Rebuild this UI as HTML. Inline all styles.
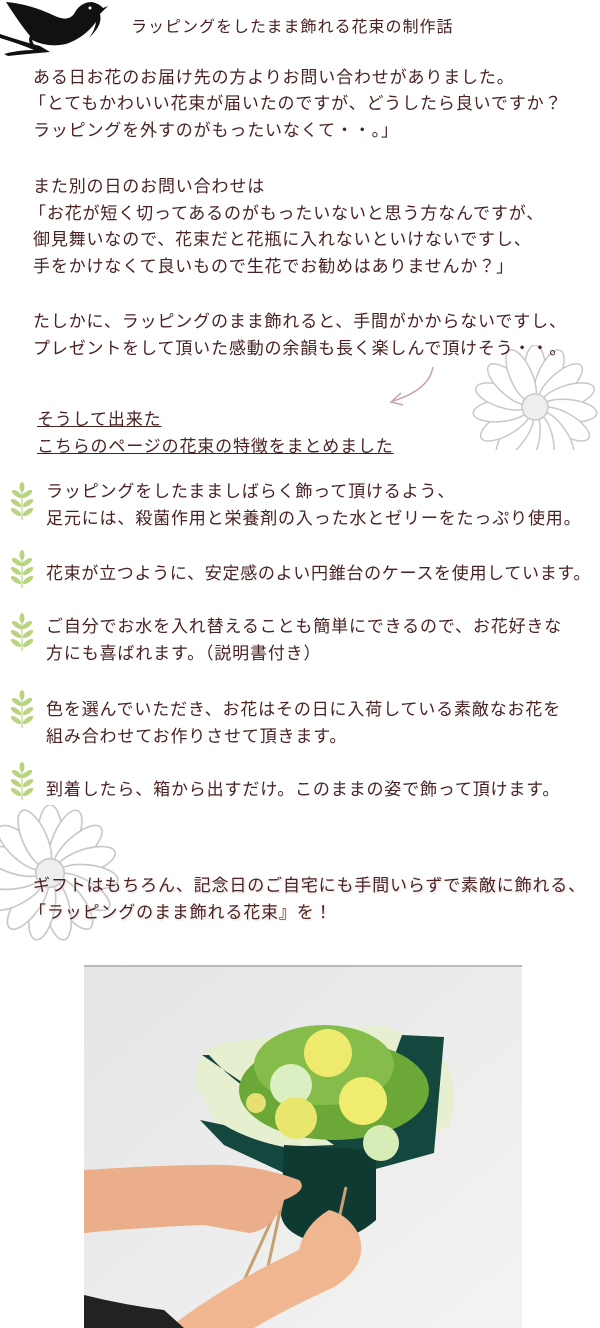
<!DOCTYPE html>
<html><head><meta charset="utf-8"><style>
html,body{margin:0;padding:0;background:#fff;}
body{width:600px;height:1328px;position:relative;overflow:hidden;font-family:"Liberation Sans","Noto Sans CJK JP",sans-serif;color:#4a2222;}
.t{position:absolute;white-space:nowrap;font-size:17px;line-height:22px;letter-spacing:0.85px;z-index:2;}
.u{text-decoration:underline;}
.sh{text-shadow:0 0 3px #fff,1px 1px 2px #d8c8c8;}
svg{position:absolute;z-index:1;}
</style></head><body>
<svg style="left:0;top:0" width="110" height="60" viewBox="0 0 110 60">
<path d="M6 2 Q30 4 55 16 Q68 22 74 14 Q80 2 92 2 Q100 4 103 8 L108 6 L100 14 Q102 22 96 30 Q86 44 66 50 Q50 54 38 50 Q26 44 30 36 Q20 24 6 2Z" fill="#111"/>
<path d="M32 40 Q48 48 66 44 Q84 38 96 22 Q94 36 80 46 Q62 54 44 52 Q34 48 32 40Z" fill="#fff"/>
<path d="M36 36 Q50 44 64 40 Q80 34 92 22" stroke="#111" stroke-width="2" fill="none"/>
<path d="M40 46 Q24 42 0 34 L0 38 Q20 44 34 50 Q18 50 4 54 L8 56 Q26 54 50 52Z" fill="#111"/>
<circle cx="90" cy="8" r="1.5" fill="#fff"/>
</svg>
<div class="t" style="left:131px;top:17px;font-size:16px;letter-spacing:1px;">ラッピングをしたまま飾れる花束の制作話</div>

<div class="t" style="left:33px;top:67px;">ある日お花のお届け先の方よりお問い合わせがありました。</div>
<div class="t" style="left:29px;top:93px;">「とてもかわいい花束が届いたのですが、どうしたら良いですか？</div>
<div class="t" style="left:33px;top:120px;">ラッピングを外すのがもったいなくて・・。」</div>

<div class="t" style="left:33px;top:176px;">また別の日のお問い合わせは</div>
<div class="t" style="left:29px;top:203px;">「お花が短く切ってあるのがもったいないと思う方なんですが、</div>
<div class="t" style="left:33px;top:229px;">御見舞いなので、花束だと花瓶に入れないといけないですし、</div>
<div class="t" style="left:33px;top:256px;">手をかけなくて良いもので生花でお勧めはありませんか？」</div>

<div class="t" style="left:33px;top:311px;">たしかに、ラッピングのまま飾れると、手間がかからないですし、</div>
<div class="t" style="left:33px;top:338px;">プレゼントをして頂いた感動の余韻も長く楽しんで頂けそう・・。</div>

<svg width="0" height="0"><defs>
<g id="daisy" fill="#fff" stroke="#c8c8c8" stroke-width="1.5">
<ellipse cx="0" cy="-34" rx="11" ry="28" transform="rotate(0)"/>
<ellipse cx="0" cy="-34" rx="11" ry="28" transform="rotate(24)"/>
<ellipse cx="0" cy="-34" rx="11" ry="28" transform="rotate(48)"/>
<ellipse cx="0" cy="-34" rx="11" ry="28" transform="rotate(72)"/>
<ellipse cx="0" cy="-34" rx="11" ry="28" transform="rotate(96)"/>
<ellipse cx="0" cy="-34" rx="11" ry="28" transform="rotate(120)"/>
<ellipse cx="0" cy="-34" rx="11" ry="28" transform="rotate(144)"/>
<ellipse cx="0" cy="-34" rx="11" ry="28" transform="rotate(168)"/>
<ellipse cx="0" cy="-34" rx="11" ry="28" transform="rotate(192)"/>
<ellipse cx="0" cy="-34" rx="11" ry="28" transform="rotate(216)"/>
<ellipse cx="0" cy="-34" rx="11" ry="28" transform="rotate(240)"/>
<ellipse cx="0" cy="-34" rx="11" ry="28" transform="rotate(264)"/>
<ellipse cx="0" cy="-34" rx="11" ry="28" transform="rotate(288)"/>
<ellipse cx="0" cy="-34" rx="11" ry="28" transform="rotate(312)"/>
<ellipse cx="0" cy="-34" rx="11" ry="28" transform="rotate(336)"/>
<circle r="13" fill="#eee"/>
</g>
<g id="lf"><line x1="12" y1="2" x2="12" y2="38" stroke="#c9dca0" stroke-width="1.5"/><g fill="#b8d47e"><ellipse cx="7" cy="12" rx="6" ry="2.5" transform="rotate(35 7 12)"/><ellipse cx="17" cy="12" rx="6" ry="2.5" transform="rotate(-35 17 12)"/><ellipse cx="6" cy="21" rx="6" ry="2.5" transform="rotate(35 6 21)"/><ellipse cx="18" cy="21" rx="6" ry="2.5" transform="rotate(-35 18 21)"/><ellipse cx="6" cy="30" rx="6" ry="2.5" transform="rotate(35 6 30)"/><ellipse cx="18" cy="30" rx="6" ry="2.5" transform="rotate(-35 18 30)"/><ellipse cx="12" cy="5" rx="2.5" ry="5"/></g></g>
</defs></svg>

<svg style="left:455px;top:345px" width="145" height="105" viewBox="0 0 145 105">
<use href="#daisy" transform="translate(80,62)"/>
</svg>
<svg style="left:385px;top:365px" width="55" height="45" viewBox="0 0 55 45">
<path d="M48 2 Q44 25 8 36" stroke="#c9a0a8" stroke-width="1.5" fill="none"/>
<path d="M16 28 L6 37 L18 40" stroke="#c9a0a8" stroke-width="1.5" fill="none"/>
</svg>

<div class="t u" style="left:37px;top:409px;">そうして出来た</div>
<div class="t u" style="left:37px;top:436px;">こちらのページの花束の特徴をまとめました</div>

<svg style="left:10px;top:482px" width="26" height="42"><use href="#lf"/></svg>
<svg style="left:10px;top:550px" width="26" height="42"><use href="#lf"/></svg>
<svg style="left:10px;top:613px" width="26" height="42"><use href="#lf"/></svg>
<svg style="left:10px;top:690px" width="26" height="42"><use href="#lf"/></svg>
<svg style="left:10px;top:762px" width="26" height="42"><use href="#lf"/></svg>

<div class="t" style="left:46px;top:481px;">ラッピングをしたまましばらく飾って頂けるよう、</div>
<div class="t" style="left:46px;top:508px;">足元には、殺菌作用と栄養剤の入った水とゼリーをたっぷり使用。</div>
<div class="t" style="left:46px;top:563px;letter-spacing:0.7px;">花束が立つように、安定感のよい円錐台のケースを使用しています。</div>
<div class="t" style="left:46px;top:616px;">ご自分でお水を入れ替えることも簡単にできるので、お花好きな</div>
<div class="t" style="left:46px;top:643px;">方にも喜ばれます。（説明書付き）</div>
<div class="t" style="left:46px;top:699px;">色を選んでいただき、お花はその日に入荷している素敵なお花を</div>
<div class="t" style="left:46px;top:726px;">組み合わせてお作りさせて頂きます。</div>
<div class="t" style="left:46px;top:779px;">到着したら、箱から出すだけ。このままの姿で飾って頂けます。</div>

<svg style="left:0;top:805px" width="130" height="145" viewBox="0 0 130 145">
<use href="#daisy" transform="translate(50,68) scale(1.1)"/>
</svg>

<div class="t sh" style="left:33px;top:875px;">ギフトはもちろん、記念日のご自宅にも手間いらずで素敵に飾れる、</div>
<div class="t sh" style="left:29px;top:902px;">「ラッピングのまま飾れる花束』を！</div>

<svg style="left:84px;top:965px" width="438" height="363" viewBox="0 0 438 363">
<defs><linearGradient id="bg" x1="0" y1="0" x2="1" y2="1"><stop offset="0" stop-color="#e4e5e5"/><stop offset="1" stop-color="#f3f3f2"/></linearGradient></defs>
<rect width="438" height="363" fill="url(#bg)"/>
<rect width="438" height="2" fill="#bbb"/>
<path d="M112 120 Q110 85 140 78 L200 70 L300 60 L350 85 Q380 110 365 160 L320 190 L200 195 L140 170Z" fill="#e6efcf"/>
<path d="M118 90 L125 90 Q170 140 200 130 L300 120 L318 70 L360 72 L355 130 L350 188 L270 210 L200 208 L140 180 L116 155 L140 160 Q165 175 200 182 L250 180 Z" fill="#14473d"/>
<path d="M200 180 L292 185 L292 255 Q270 275 235 278 Q200 270 197 250 Z" fill="#0f3a32"/>
<ellipse cx="250" cy="125" rx="95" ry="50" fill="#6ba838"/>
<ellipse cx="240" cy="100" rx="70" ry="40" fill="#86bd4a"/>
<circle cx="244" cy="88" r="24" fill="#eeea6e"/>
<circle cx="279" cy="136" r="24" fill="#f0ec70"/>
<circle cx="207" cy="120" r="21" fill="#dcefc2"/>
<circle cx="212" cy="153" r="21" fill="#e8e66c"/>
<circle cx="297" cy="178" r="18" fill="#d8ecb8"/>
<circle cx="172" cy="138" r="10" fill="#e5e070"/>
<path d="M200 228 L158 320 M200 228 L180 320 M262 222 L245 300" stroke="#c8a070" stroke-width="3" fill="none"/>
<path d="M0 205 Q80 200 120 200 Q170 198 215 215 Q225 225 200 235 Q190 265 165 268 L120 260 Q60 262 0 268Z" fill="#ebae8a"/>
<path d="M85 363 Q140 320 215 285 Q220 260 245 245 Q265 250 275 270 Q285 300 250 322 Q200 345 170 363Z" fill="#efb690"/>
<path d="M0 330 Q40 340 80 345 L100 363 L0 363Z" fill="#222"/>
</svg>
</body></html>
